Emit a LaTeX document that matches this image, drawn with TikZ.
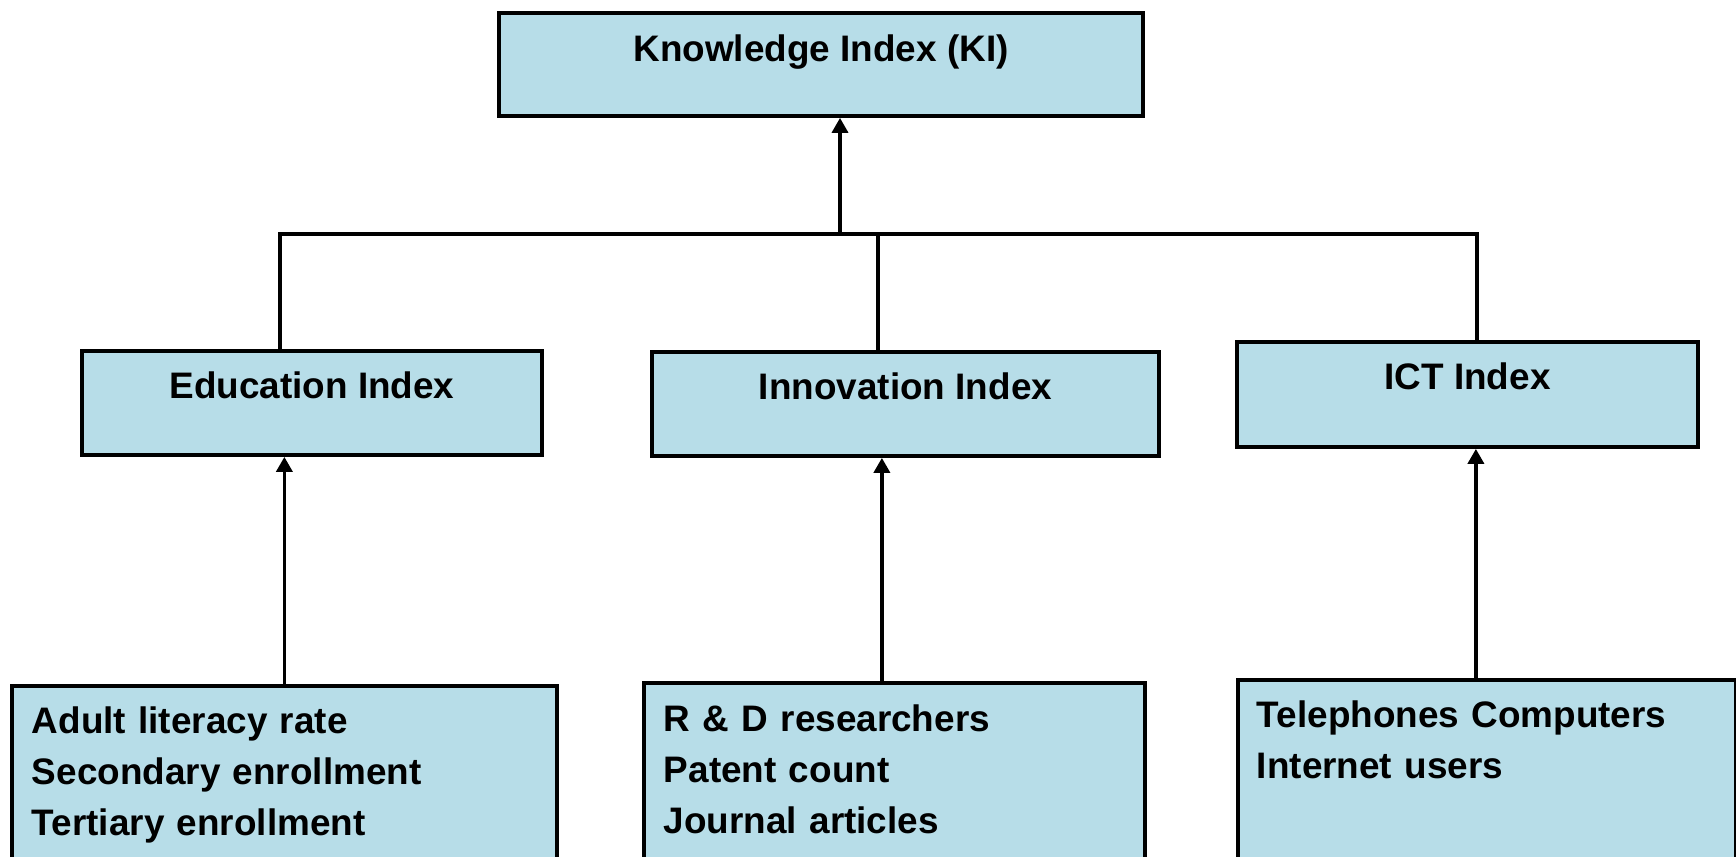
\documentclass[tikz,border=0pt]{standalone}
\usepackage{fontspec}
\setmainfont{Liberation Sans}
\usepackage{tikz}
\usetikzlibrary{arrows.meta}

\definecolor{boxblue}{RGB}{183,221,232}

\tikzset{
  idx/.style={draw=black, line width=2.2pt, fill=boxblue, inner sep=0pt,
    font=\bfseries\fontsize{21}{29}\selectfont},
  link/.style={black, line width=2.1pt},
  up/.style={link, -{Triangle[length=8.5pt,width=9pt]}},
}

\begin{document}
\begin{tikzpicture}[x=0.02cm, y=-0.02cm]

\useasboundingbox (0,0) rectangle (1736,857);

\node(ki)[idx, anchor=north, minimum width=12.88cm, text height=0.98cm, text depth=1.08cm] at (821,11) {Knowledge Index (KI)};

\node(edu)[idx, anchor=north, minimum width=9.2cm, text height=0.96cm, text depth=1.12cm] at (312,349) {Education Index};
\node(innov)[idx, anchor=north, minimum width=10.14cm, text height=0.96cm, text depth=1.12cm] at (905.5,350) {Innovation Index};
\node(ict)[idx, anchor=north, minimum width=9.22cm, text height=0.96cm, text depth=1.14cm] at (1467.5,340) {ICT Index};

\node(edudata)[idx, anchor=north west, text width=10.1cm, inner xsep=0.4cm, align=left, text height=0.96cm, text depth=5cm] at (10,684) {Adult literacy rate\\Secondary enrollment\\Tertiary enrollment};
\node(innovdata)[idx, anchor=north west, text width=9.22cm, inner xsep=0.4cm, align=left, text height=0.97cm, text depth=5cm] at (642,681) {R \& D researchers\\Patent count\\Journal articles};
\node(ictdata)[idx, anchor=north west, text width=9.2cm, inner xsep=0.38cm, align=left, text height=0.96cm, text depth=5cm] at (1236,678) {Telephones Computers\\Internet users};

% bus between the three indices
\coordinate(busL) at (280,234);
\coordinate(busM) at (840,234);
\coordinate(busI) at (878,234);
\coordinate(busR) at (1477,234);

\draw[link] (busL |- edu.north) -- (busL) -- (busR) -- (busR |- ict.north);
\draw[link] (busI) -- (busI |- innov.north);
\draw[up] (busM) -- (busM |- ki.south);

% indicators up to their index
\coordinate(innovup) at ([xshift=-0.25cm]innovdata.north);
\coordinate(ictup) at ([xshift=-0.22cm]ictdata.north);

\draw[up] (edudata.north) -- (edudata.north |- edu.south);
\draw[up] (innovup) -- (innovup |- innov.south);
\draw[up] (ictup) -- (ictup |- ict.south);

\end{tikzpicture}
\end{document}
